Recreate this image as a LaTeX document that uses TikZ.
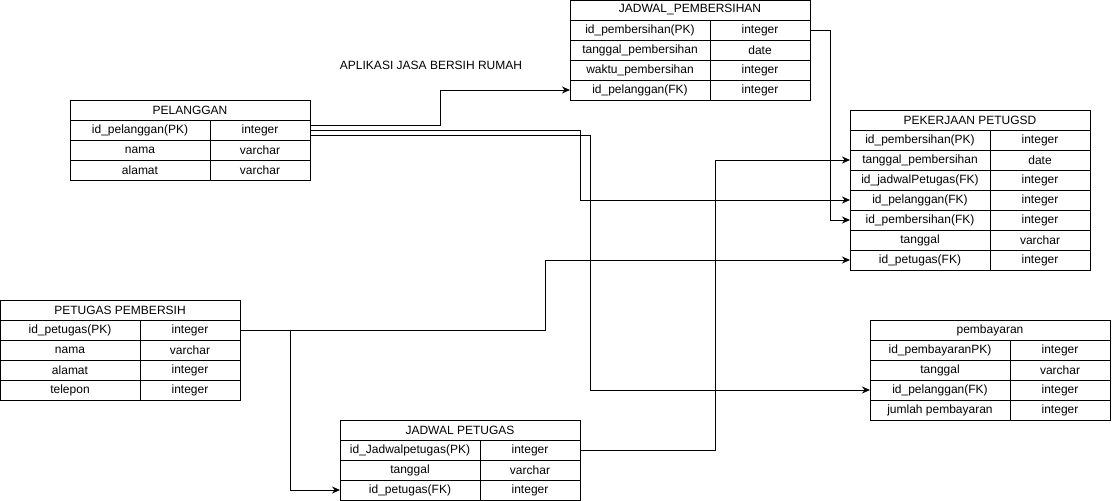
\documentclass[tikz,border=0pt]{standalone}
\usepackage{fontspec}
\setmainfont{Liberation Sans}
\usetikzlibrary{arrows.meta}

\begin{document}
\begin{tikzpicture}[x=1pt,y=-1pt,line width=1pt,
    cell/.style={draw,inner sep=0pt,outer sep=0pt,minimum height=20pt,
      font=\fontsize{12}{14}\selectfont},
    head/.style={cell,minimum width=240pt},
    key/.style={cell,minimum width=140pt},
    typ/.style={cell,minimum width=100pt},
    fk/.style={-{Stealth[length=8pt,width=7pt]}}]
  \useasboundingbox (0,0) rectangle (1112,501);

  \node[font=\fontsize{12}{14}\selectfont] (title) at (431,65) {APLIKASI JASA BERSIH RUMAH};

  \node[head] (jp) at (690,10) {JADWAL\_PEMBERSIHAN};
  \node[key] (jp1k) at (640,30) {id\_pembersihan(PK)};
  \node[typ] (jp1t) at (760,30) {integer};
  \node[key] (jp2k) at (640,50) {tanggal\_pembersihan};
  \node[typ] (jp2t) at (760,50) {date};
  \node[key] (jp3k) at (640,70) {waktu\_pembersihan};
  \node[typ] (jp3t) at (760,70) {integer};
  \node[key] (jp4k) at (640,90) {id\_pelanggan(FK)};
  \node[typ] (jp4t) at (760,90) {integer};

  \node[head] (pel) at (190,110) {PELANGGAN};
  \node[key] (pel1k) at (140,130) {id\_pelanggan(PK)};
  \node[typ] (pel1t) at (260,130) {integer};
  \node[key] (pel2k) at (140,150) {nama};
  \node[typ] (pel2t) at (260,150) {varchar};
  \node[key] (pel3k) at (140,170) {alamat};
  \node[typ] (pel3t) at (260,170) {varchar};

  \node[head] (pk) at (970,120) {PEKERJAAN PETUGSD};
  \node[key] (pk1k) at (920,140) {id\_pembersihan(PK)};
  \node[typ] (pk1t) at (1040,140) {integer};
  \node[key] (pk2k) at (920,160) {tanggal\_pembersihan};
  \node[typ] (pk2t) at (1040,160) {date};
  \node[key] (pk3k) at (920,180) {id\_jadwalPetugas(FK)};
  \node[typ] (pk3t) at (1040,180) {integer};
  \node[key] (pk4k) at (920,200) {id\_pelanggan(FK)};
  \node[typ] (pk4t) at (1040,200) {integer};
  \node[key] (pk5k) at (920,220) {id\_pembersihan(FK)};
  \node[typ] (pk5t) at (1040,220) {integer};
  \node[key] (pk6k) at (920,240) {tanggal};
  \node[typ] (pk6t) at (1040,240) {varchar};
  \node[key] (pk7k) at (920,260) {id\_petugas(FK)};
  \node[typ] (pk7t) at (1040,260) {integer};

  \node[head] (pp) at (120,310) {PETUGAS PEMBERSIH};
  \node[key] (pp1k) at (70,330) {id\_petugas(PK)};
  \node[typ] (pp1t) at (190,330) {integer};
  \node[key] (pp2k) at (70,350) {nama};
  \node[typ] (pp2t) at (190,350) {varchar};
  \node[key] (pp3k) at (70,370) {alamat};
  \node[typ] (pp3t) at (190,370) {integer};
  \node[key] (pp4k) at (70,390) {telepon};
  \node[typ] (pp4t) at (190,390) {integer};

  \node[head] (pb) at (990,330) {pembayaran};
  \node[key] (pb1k) at (940,350) {id\_pembayaranPK)};
  \node[typ] (pb1t) at (1060,350) {integer};
  \node[key] (pb2k) at (940,370) {tanggal};
  \node[typ] (pb2t) at (1060,370) {varchar};
  \node[key] (pb3k) at (940,390) {id\_pelanggan(FK)};
  \node[typ] (pb3t) at (1060,390) {integer};
  \node[key] (pb4k) at (940,410) {jumlah pembayaran};
  \node[typ] (pb4t) at (1060,410) {integer};

  \node[head] (jt) at (460,430) {JADWAL PETUGAS};
  \node[key] (jt1k) at (410,450) {id\_Jadwalpetugas(PK)};
  \node[typ] (jt1t) at (530,450) {integer};
  \node[key] (jt2k) at (410,470) {tanggal};
  \node[typ] (jt2t) at (530,470) {varchar};
  \node[key] (jt3k) at (410,490) {id\_petugas(FK)};
  \node[typ] (jt3t) at (530,490) {integer};

  \draw[fk] ([yshift=5pt]pel1t.east) -- ++(130,0) |- (jp4k.west);
  \draw[fk] (pel1t.east) -- ++(270,0) |- (pk4k.west);
  \draw[fk] ([yshift=-5pt]pel1t.east) -- ++(280,0) |- (pb3k.west);
  \draw[fk] (jp1t.east) -- ++(20,0) |- (pk5k.west);
  \draw[fk] (pp1t.east) -- ++(305,0) |- (pk7k.west);
  \draw[fk] (pp1t.east) -- ++(50,0) |- (jt3k.west);
  \draw[fk] (jt1t.east) -- ++(135,0) |- (pk2k.west);
\end{tikzpicture}
\end{document}
